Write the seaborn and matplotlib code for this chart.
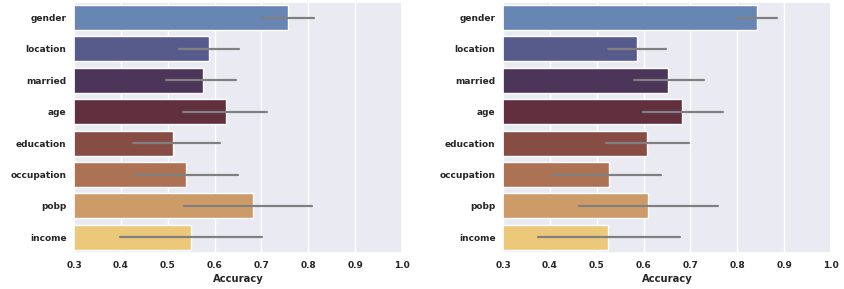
import numpy as np
import pandas as pd
import seaborn as sns
import matplotlib
matplotlib.use('Agg')
import matplotlib.pyplot as plt

#%% Data
features = ['gender', 'location', 'married', 'age', 'education', 'occupation', 'pobp', 'income']
colors = ['#6886b3', '#575b8b', '#4b3559', '#622f3f', '#874d45', '#ac7253', '#cd9b68', '#ecc97a']

# left panel: accuracy and error-bar ends
acc_left = [0.756, 0.589, 0.575, 0.624, 0.512, 0.539, 0.682, 0.549]
lo_left = [0.701, 0.524, 0.496, 0.532, 0.425, 0.431, 0.535, 0.398]
hi_left = [0.812, 0.653, 0.645, 0.711, 0.611, 0.650, 0.807, 0.702]

# right panel
acc_right = [0.842, 0.586, 0.653, 0.682, 0.608, 0.526, 0.609, 0.524]
lo_right = [0.799, 0.525, 0.580, 0.598, 0.520, 0.405, 0.462, 0.374]
hi_right = [0.885, 0.648, 0.729, 0.769, 0.697, 0.637, 0.758, 0.677]

xticks = [0.3, 0.4, 0.5, 0.6, 0.7, 0.8, 0.9, 1.0]


def make_df(acc, lo, hi):
    # three rows per feature: median is the bar, min/max are the error bar ends
    rows = []
    for f, a, l, h in zip(features, acc, lo, hi):
        for v in (l, a, h):
            rows.append({'feature': f, 'Accuracy': v})
    return pd.DataFrame(rows)


sns.set_theme(style='darkgrid')
plt.rcParams['font.family'] = ['DejaVu Sans']

fig = plt.figure(figsize=(8.44, 2.89), dpi=100)
ax_l = fig.add_axes([0.0877, 0.1246, 0.3886, 0.869])
ax_r = fig.add_axes([0.596, 0.1246, 0.3886, 0.869])

for ax, (acc, lo, hi) in zip([ax_l, ax_r], [(acc_left, lo_left, hi_left), (acc_right, lo_right, hi_right)]):
    df = make_df(acc, lo, hi)
    sns.barplot(data=df, x='Accuracy', y='feature', hue='feature', order=features,
                palette=colors, saturation=1, legend=False, estimator='median',
                errorbar=('pi', 100), err_kws={'color': 'gray', 'linewidth': 1.6},
                ax=ax)
    ax.set_xlim(0.3, 1.0)
    ax.set_xticks(xticks)
    ax.set_xticklabels([f'{t:.1f}' for t in xticks])
    ax.set_ylabel('')
    ax.set_xlabel('Accuracy', fontsize=7.2, fontweight='bold', labelpad=3)
    ax.tick_params(axis='both', labelsize=6.5, length=0, pad=5.5)
    for lab in ax.get_xticklabels() + ax.get_yticklabels():
        lab.set_fontweight('bold')

fig.savefig('out.png', dpi=100)
